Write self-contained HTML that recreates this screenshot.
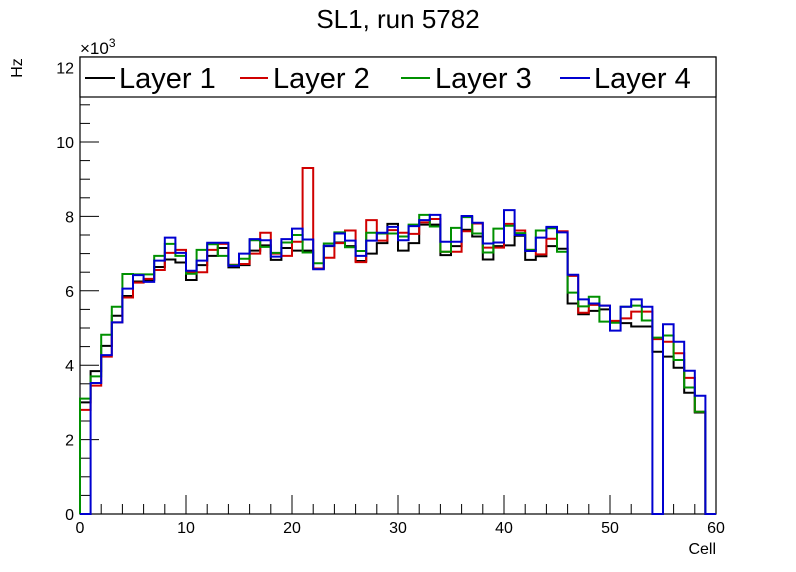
<!DOCTYPE html>
<html><head><meta charset="utf-8"><style>
body{margin:0;background:#fff}
svg{display:block;font-family:"Liberation Sans",sans-serif}
</style></head><body>
<svg id="c" width="796" height="572" viewBox="0 0 796 572">
<text x="398" y="28" font-size="26" text-anchor="middle">SL1, run 5782</text>
<text x="80" y="54" font-size="17">×10<tspan dy="-7" font-size="12">3</tspan></text>
<text transform="translate(22,68) rotate(-90)" font-size="16" text-anchor="middle">Hz</text>
<text x="716" y="554" font-size="16" text-anchor="end">Cell</text>
<g id="axes"></g>
<g id="series"></g>
<g id="legend">
<rect x="80" y="57" width="636" height="40" fill="#fff" stroke="#000" stroke-width="1.2"/>
<line x1="85" y1="78" x2="115" y2="78" stroke="#000" stroke-width="2"/>
<text x="119" y="88" font-size="29">Layer 1</text>
<line x1="240" y1="78" x2="268" y2="78" stroke="#d00000" stroke-width="2"/>
<text x="273" y="88" font-size="29">Layer 2</text>
<line x1="401" y1="78" x2="430" y2="78" stroke="#009000" stroke-width="2"/>
<text x="435" y="88" font-size="29">Layer 3</text>
<line x1="560" y1="78" x2="590" y2="78" stroke="#0000d0" stroke-width="2"/>
<text x="594" y="88" font-size="29">Layer 4</text>
</g>
</svg>
<script>
const layer1=[3.0,3.84,4.52,5.33,5.86,6.25,6.29,6.64,6.84,6.76,6.29,6.69,6.94,7.15,6.63,6.69,7.08,7.22,6.83,7.15,7.08,7.08,6.6,7.2,7.3,7.2,6.8,7.0,7.28,7.8,7.08,7.28,7.78,7.78,6.96,7.2,7.64,7.46,6.84,7.2,7.22,7.48,6.83,6.93,7.2,7.13,5.66,5.37,5.46,5.5,5.18,5.13,5.04,5.04,4.36,4.23,3.93,3.26,2.73,0];
const layer2=[2.8,3.45,4.23,5.15,5.82,6.22,6.32,6.56,7.02,7.1,6.5,6.5,7.1,7.26,6.7,6.72,7.0,7.56,7.0,6.94,7.32,9.3,6.6,6.89,7.28,7.62,6.77,7.9,7.35,7.63,7.56,7.53,7.84,7.93,7.05,7.05,7.6,7.81,7.16,7.16,7.8,7.62,7.1,6.98,7.4,7.6,6.4,5.41,5.62,5.6,5.19,5.26,5.44,5.44,4.7,4.63,4.32,3.66,2.75,0];
const layer3=[3.1,3.7,4.82,5.57,6.45,6.44,6.44,6.94,7.26,6.94,6.46,7.1,7.25,6.94,6.69,6.86,7.36,7.18,7.02,7.3,7.5,7.03,6.74,7.27,7.57,7.17,7.07,7.56,7.54,7.54,7.46,7.78,8.04,7.73,7.05,7.69,7.98,7.54,7.03,7.67,7.75,7.55,7.1,7.62,7.68,7.05,5.95,5.58,5.84,5.17,5.14,5.57,5.6,5.2,4.74,4.8,4.14,3.4,2.75,0];
const layer4=[0,3.52,4.27,5.15,6.06,6.42,6.24,6.81,7.43,7.02,6.54,6.81,7.29,7.29,6.67,7.0,7.39,7.36,6.92,7.39,7.67,7.38,6.58,7.21,7.54,7.35,6.94,7.35,7.56,7.72,7.36,7.74,7.9,8.04,7.32,7.32,8.01,7.83,7.27,7.3,8.17,7.5,7.07,7.43,7.72,7.57,6.43,5.77,5.66,5.6,4.93,5.57,5.77,5.57,0,5.1,4.63,3.85,3.18,0];
const xTicks=[0,10,20,30,40,50,60];
const yTicks=[0,2,4,6,8,10,12];
const X0=80,X1=716,Y0=514,PY=37.2;
const xs=v=>X0+(X1-X0)*v/60;
const ys=v=>Y0-v*PY;
const NS="http://www.w3.org/2000/svg";
const ax=document.getElementById('axes'),sg=document.getElementById('series');
function mk(t,a,p){const e=document.createElementNS(NS,t);for(const k in a)e.setAttribute(k,a[k]);p.appendChild(e);return e;}
const fr=mk('rect',{x:X0,y:57,width:X1-X0,height:Y0-57,fill:'none',stroke:'#000','stroke-width':1.2},ax);


for(let v=0;v<=12.01;v+=0.5){const maj=Math.abs(v/2-Math.round(v/2))<1e-6;
 const l=mk('line',{x1:X0,x2:X0+(maj?19:10),y1:ys(v),y2:ys(v),stroke:'#000','stroke-width':1},ax);
 
 }
yTicks.forEach(v=>{const t=mk('text',{x:X0-6,y:ys(v)+6,'font-size':16,'text-anchor':'end'},ax);t.textContent=v;
 
 });
for(let v=0;v<=60;v+=2){const maj=v%10===0;
 const l=mk('line',{x1:xs(v),x2:xs(v),y1:Y0,y2:Y0-(maj?19:10),stroke:'#000','stroke-width':1},ax);
 
 }
xTicks.forEach(v=>{const t=mk('text',{x:xs(v),y:Y0+19,'font-size':16,'text-anchor':'middle'},ax);t.textContent=v;
 
 });
function step(d){let p='M'+xs(0)+','+ys(0);d.forEach((v,i)=>{p+=' L'+xs(i)+','+ys(v)+' L'+xs(i+1)+','+ys(v);});p+=' L'+xs(d.length)+','+ys(0);return p;}
[[layer1,'#000','layer-1'],[layer2,'#d00000','layer-2'],[layer3,'#009000','layer-3'],[layer4,'#0000d0','layer-4']].forEach(([d,c,n])=>{
 const p=mk('path',{d:step(d),fill:'none',stroke:c,'stroke-width':2},sg);
 
 });
</script>
</body></html>
